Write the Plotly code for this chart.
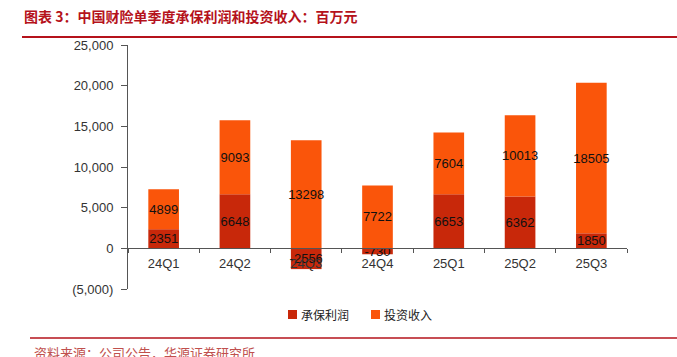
import plotly.graph_objects as go

categories = ["24Q1", "24Q2", "24Q3", "24Q4", "25Q1", "25Q2", "25Q3"]
underwriting = [2351, 6648, -2556, -730, 6653, 6362, 1850]
investment = [4899, 9093, 13298, 7722, 7604, 10013, 18505]
series_names = ["承保利润", "投资收入"]
series_colors = ["#C8280A", "#FA550A"]
y_tickvals = [-5000, 0, 5000, 10000, 15000, 20000, 25000]
y_ticktext = ["(5,000)", "0", "5,000", "10,000", "15,000", "20,000", "25,000"]

W, H = 677, 357
ml, mr, mt, mb = 128, 50, 45, 68
PW, PH = W - ml - mr, H - mt - mb


def px(x):
    return (x - ml) / PW


def py(y):
    return (H - mb - y) / PH


fig = go.Figure()
for vals, name, col in zip([underwriting, investment], series_names, series_colors):
    fig.add_trace(go.Bar(
        x=categories, y=vals, name=name,
        marker=dict(color=col, line=dict(width=0)),
        text=[str(v) for v in vals], textposition="inside", textangle=0,
        insidetextanchor="middle",
        textfont=dict(color="#111111", size=13, family="Liberation Sans"),
        showlegend=False,
    ))

fig.update_layout(
    width=W, height=H,
    margin=dict(l=ml, r=mr, t=mt, b=mb, pad=0),
    barmode="relative", bargap=0.57,
    plot_bgcolor="white", paper_bgcolor="white",
    uniformtext=dict(minsize=13, mode="show"),
    font=dict(family="Liberation Sans", size=13, color="#333333"),
    showlegend=False,
    xaxis=dict(
        type="category", anchor="free", position=1/6,
        showline=True, linecolor="#555555", linewidth=1,
        ticks="outside", ticklen=4, tickcolor="#555555", tickson="boundaries",
        ticklabelstandoff=3,
        tickfont=dict(family="Liberation Sans", size=13, color="#333333"),
        showgrid=False, zeroline=False,
    ),
    yaxis=dict(
        range=[-5000, 25000], tickvals=y_tickvals, ticktext=y_ticktext,
        showline=True, linecolor="#555555", linewidth=1,
        ticks="outside", ticklen=6, tickcolor="#555555",
        ticklabelstandoff=5,
        tickfont=dict(family="Liberation Sans", size=13, color="#333333"),
        showgrid=False, zeroline=False, domain=[0, 1],
    ),
)

# legend drawn as colored squares + text
legend_x = [288, 371]
for name, col, lx in zip(series_names, series_colors, legend_x):
    fig.add_shape(type="rect", xref="paper", yref="paper",
                  x0=px(lx), x1=px(lx + 9), y0=py(319), y1=py(310),
                  fillcolor=col, line=dict(width=0))
    fig.add_annotation(text=name, xref="paper", yref="paper",
                       x=px(lx + 11), y=py(314.5), xanchor="left", yanchor="middle",
                       showarrow=False,
                       font=dict(family="Noto Sans CJK SC", size=12, color="#222222"))

# title and source lines
fig.add_annotation(
    text="<b>图表 3：中国财险单季度承保利润和投资收入：百万元</b>",
    xref="paper", yref="paper", x=px(22), y=py(16),
    xanchor="left", yanchor="middle",
    showarrow=False, font=dict(family="Noto Sans CJK SC", size=14, color="#B5121B"),
)
fig.add_shape(type="line", xref="paper", yref="paper",
              x0=px(22), x1=px(677), y0=py(37), y1=py(37),
              line=dict(color="#B5121B", width=2))
fig.add_shape(type="line", xref="paper", yref="paper",
              x0=px(30), x1=px(677), y0=py(338), y1=py(338),
              line=dict(color="#B5121B", width=1.5))
fig.add_annotation(
    text="资料来源：公司公告，华源证券研究所",
    xref="paper", yref="paper", x=px(32), y=py(352),
    xanchor="left", yanchor="middle",
    showarrow=False, font=dict(family="Noto Sans CJK SC", size=13, color="#C0504D"),
)

fig.write_html("out.html", config={"displayModeBar": False},
               post_script="document.body.style.margin='0';document.body.style.overflow='hidden';")
